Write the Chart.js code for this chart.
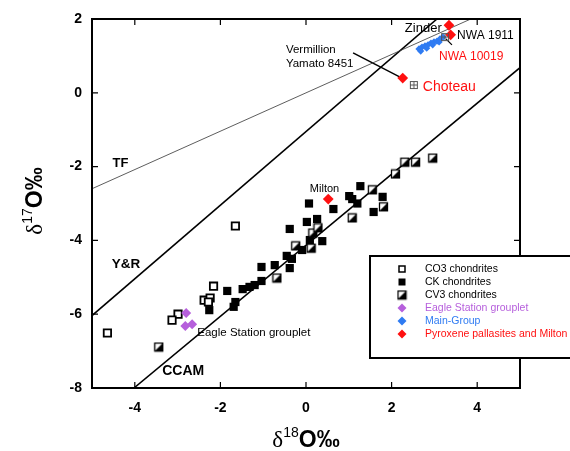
<!DOCTYPE html>
<html>
<head>
<meta charset="utf-8">
<script src="https://cdn.jsdelivr.net/npm/chart.js@4.4.1/dist/chart.umd.min.js"></script>
<style>
  html, body { margin: 0; padding: 0; background: #fff; }
  #wrap { width: 570px; height: 451px; position: relative; }
</style>
</head>
<body>
<div id="wrap"><canvas id="chart" width="570" height="451"></canvas></div>
<script>
// ─── oxygen isotope plot (d18O vs d17O) ───
const xTicks = [-4, -2, 0, 2, 4];
const yTicks = [2, 0, -2, -4, -6, -8];

// CO3 chondrites (hollow squares)
const co3 = [
  {x: -4.64, y: -6.51}, {x: -1.65, y: -3.61}, {x: -2.16, y: -5.24}, {x: -2.38, y: -5.62},
  {x: -2.24, y: -5.56}, {x: -2.28, y: -5.67}, {x: -2.99, y: -6.00}, {x: -3.13, y: -6.16}
];
// CK chondrites (filled squares)
const ck = [
  {x: 0.07, y: -3.00}, {x: 0.64, y: -3.15}, {x: 0.02, y: -3.50}, {x: 0.26, y: -3.42},
  {x: -0.38, y: -3.69}, {x: 0.38, y: -4.02}, {x: 0.09, y: -3.99}, {x: -0.09, y: -4.26},
  {x: -0.45, y: -4.42}, {x: -0.33, y: -4.50}, {x: -0.73, y: -4.67}, {x: -0.38, y: -4.75},
  {x: -1.04, y: -4.72}, {x: -1.04, y: -5.10}, {x: -1.20, y: -5.21}, {x: -1.32, y: -5.26},
  {x: -1.48, y: -5.32}, {x: -1.84, y: -5.37}, {x: -1.65, y: -5.67}, {x: -1.69, y: -5.80},
  {x: -2.26, y: -5.89}, {x: 1.27, y: -2.53}, {x: 1.01, y: -2.80}, {x: 1.08, y: -2.88},
  {x: 1.20, y: -3.00}, {x: 1.79, y: -2.82}, {x: 1.58, y: -3.23}
];
// CV3 chondrites (half-filled squares)
const cv3 = [
  {x: 1.55, y: -2.63}, {x: 1.81, y: -3.09}, {x: 1.08, y: -3.39}, {x: 0.16, y: -3.80},
  {x: 0.28, y: -3.66}, {x: -0.24, y: -4.15}, {x: 0.12, y: -4.21}, {x: -0.68, y: -5.02},
  {x: 2.31, y: -1.88}, {x: 2.56, y: -1.88}, {x: 2.96, y: -1.77}, {x: 2.09, y: -2.20},
  {x: -3.44, y: -6.89}
];
// pallasites
const eagleStation = [{x: -2.80, y: -5.97}, {x: -2.82, y: -6.32}, {x: -2.66, y: -6.27}];
const mainGroup = [
  {x: 2.64, y: 1.19}, {x: 2.71, y: 1.24}, {x: 2.78, y: 1.27}, {x: 2.85, y: 1.30},
  {x: 2.92, y: 1.35}, {x: 2.99, y: 1.38}, {x: 3.06, y: 1.40}, {x: 3.13, y: 1.46},
  {x: 3.20, y: 1.51}, {x: 2.68, y: 1.13}, {x: 2.82, y: 1.21}, {x: 2.96, y: 1.30},
  {x: 3.11, y: 1.38}
];
const pyroxene = [{x: 3.34, y: 1.83}, {x: 3.38, y: 1.57}, {x: 2.26, y: 0.40}, {x: 0.52, y: -2.88}];
const crossedSquares = [{x: 3.25, y: 1.51}, {x: 2.52, y: 0.21}];

// reference lines (end points)
const tfLine  = [{x: -5, y: -2.60}, {x: 3.85, y: 2.00}];
const yrLine  = [{x: -5, y: -6.04}, {x: 3.06, y: 2.00}];
const ccamLine = [{x: -4.02, y: -8.00}, {x: 5, y: 0.68}];
const leaderVermillion = [{x: 1.10, y: 1.08}, {x: 2.21, y: 0.42}];
const leaderNwa10019 = [{x: 3.27, y: 1.46}, {x: 3.41, y: 1.30}];

const SANS = "'Liberation Sans', Arial, sans-serif";
const SERIF = "'Liberation Serif', 'Times New Roman', serif";
const PURPLE = '#b65fdc', BLUE = '#2f7bf2', RED = '#ff1010';

function halfSquare() {
    const c = document.createElement('canvas');
    c.width = 11; c.height = 11;
    const g = c.getContext('2d');
    g.fillStyle = '#fff'; g.fillRect(1.5, 1.5, 8, 8);
    g.fillStyle = '#000';
    g.beginPath(); g.moveTo(9.5, 1.5); g.lineTo(9.5, 9.5); g.lineTo(1.5, 9.5); g.closePath(); g.fill();
    g.strokeStyle = '#000'; g.lineWidth = 1.3; g.strokeRect(1.5, 1.5, 8, 8);
    return c;
}
function crossSquare() {
    const c = document.createElement('canvas');
    c.width = 10; c.height = 10;
    const g = c.getContext('2d');
    g.strokeStyle = '#555'; g.lineWidth = 1;
    g.strokeRect(1.5, 1.5, 7, 7);
    g.beginPath(); g.moveTo(5, 1.5); g.lineTo(5, 8.5); g.moveTo(1.5, 5); g.lineTo(8.5, 5); g.stroke();
    return c;
}
const cvImg = halfSquare();
const crossImg = crossSquare();

function lineSet(data, width, color) {
    return { type: 'line', data: data, showLine: true, borderColor: color || '#000',
             borderWidth: width, pointRadius: 0, fill: false, order: 5 };
}

// text annotations in data coordinates: [text, x, y, font, colour]
const notes = [
    ['Zinder', 2.31, 1.65, '13px ' + SANS, '#000'],
    ['NWA 1911', 3.53, 1.46, '12px ' + SANS, '#000'],
    ['NWA 10019', 3.11, 0.89, '12px ' + SANS, RED],
    ['Vermillion', -0.47, 1.08, '11.5px ' + SANS, '#000'],
    ['Yamato 8451', -0.47, 0.70, '11.5px ' + SANS, '#000'],
    ['Choteau', 2.73, 0.05, '14px ' + SANS, RED],
    ['Milton', 0.09, -2.69, '11px ' + SANS, '#000'],
    ['Eagle Station grouplet', -2.54, -6.59, '11.5px ' + SANS, '#000'],
    ['TF', -4.52, -2.01, 'bold 13px ' + SANS, '#000'],
    ['Y&R', -4.54, -4.75, 'bold 13.5px ' + SANS, '#000'],
    ['CCAM', -3.36, -7.65, 'bold 14px ' + SANS, '#000']
];

const legendItems = [
    ['CO3 chondrites', 'co3', '#000'],
    ['CK chondrites', 'ck', '#000'],
    ['CV3 chondrites', 'cv3', '#000'],
    ['Eagle Station grouplet', PURPLE, PURPLE],
    ['Main-Group', BLUE, BLUE],
    ['Pyroxene pallasites and Milton', RED, RED]
];

function drawTitle(ctx, parts) {
    // parts: [text, font, dy]
    let w = 0;
    parts.forEach(p => { ctx.font = p[1]; w += ctx.measureText(p[0]).width; });
    let x = -w / 2;
    parts.forEach(p => {
        ctx.font = p[1];
        ctx.fillText(p[0], x, p[2]);
        x += ctx.measureText(p[0]).width;
    });
}

const decorPlugin = {
    id: 'decor',
    afterDatasetsDraw(chart) {
        const ctx = chart.ctx;
        const a = chart.chartArea;
        const xs = chart.scales.x, ys = chart.scales.y;
        ctx.save();

        // frame
        ctx.strokeStyle = '#000';
        ctx.lineWidth = 2;
        ctx.strokeRect(a.left, a.top, a.right - a.left, a.bottom - a.top);

        // inward ticks on all four sides
        ctx.lineWidth = 1.2;
        ctx.beginPath();
        xTicks.forEach(v => {
            const px = xs.getPixelForValue(v);
            ctx.moveTo(px, a.bottom); ctx.lineTo(px, a.bottom - 6);
            ctx.moveTo(px, a.top); ctx.lineTo(px, a.top + 6);
        });
        yTicks.forEach(v => {
            const py = ys.getPixelForValue(v);
            ctx.moveTo(a.left, py); ctx.lineTo(a.left + 6, py);
            ctx.moveTo(a.right, py); ctx.lineTo(a.right - 6, py);
        });
        ctx.stroke();

        // annotations
        ctx.textBaseline = 'alphabetic';
        ctx.textAlign = 'left';
        notes.forEach(n => {
            ctx.font = n[3];
            ctx.fillStyle = n[4];
            ctx.fillText(n[0], xs.getPixelForValue(n[1]), ys.getPixelForValue(n[2]));
        });

        // legend box
        const bx = 370, by = 256;
        ctx.fillStyle = '#fff';
        ctx.fillRect(bx, by, 210, 102);
        ctx.lineWidth = 2;
        ctx.strokeStyle = '#000';
        ctx.strokeRect(bx, by, 210, 102);
        legendItems.forEach((it, i) => {
            const cy = 269 + i * 13;
            const sx = 402;
            if (it[1] === 'co3') {
                ctx.fillStyle = '#fff'; ctx.lineWidth = 1.5; ctx.strokeStyle = '#000';
                ctx.fillRect(sx - 3, cy - 3, 6, 6); ctx.strokeRect(sx - 3, cy - 3, 6, 6);
            } else if (it[1] === 'ck') {
                ctx.fillStyle = '#000'; ctx.fillRect(sx - 3.5, cy - 3.5, 7, 7);
            } else if (it[1] === 'cv3') {
                ctx.drawImage(cvImg, sx - 5.5, cy - 5.5);
            } else {
                ctx.fillStyle = it[1];
                ctx.beginPath();
                ctx.moveTo(sx, cy - 4.5); ctx.lineTo(sx + 4.5, cy);
                ctx.lineTo(sx, cy + 4.5); ctx.lineTo(sx - 4.5, cy);
                ctx.closePath(); ctx.fill();
            }
            ctx.fillStyle = it[2];
            ctx.font = '10.5px ' + SANS;
            ctx.textBaseline = 'middle';
            ctx.fillText(it[0], 425, cy);
        });

        // axis titles
        ctx.fillStyle = '#000';
        ctx.textBaseline = 'alphabetic';
        ctx.save();
        ctx.translate((a.left + a.right) / 2, 447);
        drawTitle(ctx, [['δ', '23px ' + SERIF, 0], ['18', '14px ' + SANS, -10], ['O‰', 'bold 23px ' + SANS, 0]]);
        ctx.restore();
        ctx.save();
        ctx.translate(42, 201);
        ctx.rotate(-Math.PI / 2);
        drawTitle(ctx, [['δ', '23px ' + SERIF, 0], ['17', '14px ' + SANS, -10], ['O‰', 'bold 23px ' + SANS, 0]]);
        ctx.restore();

        ctx.restore();
    }
};

const ctx = document.getElementById('chart').getContext('2d');
new Chart(ctx, {
    type: 'scatter',
    data: {
        datasets: [
            lineSet(tfLine, 0.8, '#333'),
            lineSet(yrLine, 1.6),
            lineSet(ccamLine, 1.6),
            lineSet(leaderVermillion, 1.5),
            lineSet(leaderNwa10019, 1.2),
            { label: 'CO3 chondrites', data: co3, pointStyle: 'rect', pointRadius: 5.2,
              backgroundColor: '#fff', borderColor: '#000', borderWidth: 1.8, order: 3 },
            { label: 'CK chondrites', data: ck, pointStyle: 'rect', pointRadius: 5.8,
              backgroundColor: '#000', borderColor: '#000', borderWidth: 0, order: 3 },
            { label: 'CV3 chondrites', data: cv3, pointStyle: cvImg, order: 2 },
            { label: 'Eagle Station grouplet', data: eagleStation, pointStyle: 'rectRot', pointRadius: 5,
              backgroundColor: PURPLE, borderColor: PURPLE, borderWidth: 0, order: 1 },
            { label: 'Main-Group', data: mainGroup, pointStyle: 'rectRot', pointRadius: 3.6,
              backgroundColor: BLUE, borderColor: BLUE, borderWidth: 0, order: 1 },
            { label: 'crossed', data: crossedSquares, pointStyle: crossImg, order: 0 },
            { label: 'Pyroxene pallasites and Milton', data: pyroxene, pointStyle: 'rectRot', pointRadius: 5.4,
              backgroundColor: RED, borderColor: RED, borderWidth: 0, order: 0 }
        ]
    },
    options: {
        responsive: false,
        animation: false,
        layout: { padding: { top: 19, right: 50, left: 0, bottom: 0 } },
        plugins: { legend: { display: false }, tooltip: { enabled: false } },
        scales: {
            x: {
                type: 'linear', min: -5, max: 5,
                afterBuildTicks: s => { s.ticks = xTicks.map(v => ({ value: v })); },
                afterFit: s => { s.height = 63; },
                grid: { display: false, drawTicks: false },
                border: { display: false },
                ticks: { padding: 12, color: '#000', font: { family: SANS, size: 14, weight: 'bold' } }
            },
            y: {
                type: 'linear', min: -8, max: 2,
                afterBuildTicks: s => { s.ticks = yTicks.map(v => ({ value: v })); },
                afterFit: s => { s.width = 92; },
                grid: { display: false, drawTicks: false },
                border: { display: false },
                ticks: { padding: 10, color: '#000', font: { family: SANS, size: 14, weight: 'bold' } }
            }
        }
    },
    plugins: [decorPlugin]
});
</script>
</body>
</html>
